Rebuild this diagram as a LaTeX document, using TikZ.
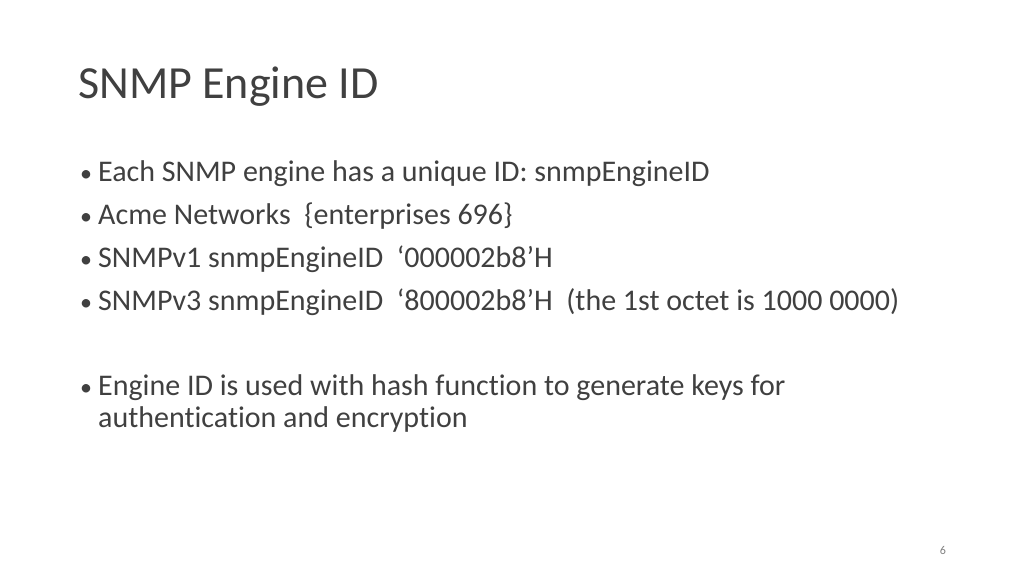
\documentclass[tikz,border=0pt]{standalone}
\usepackage{fontspec}
\setmainfont[Ligatures={NoCommon,NoRare}]{Carlito}
\definecolor{txt}{HTML}{404040}
\begin{document}
\begin{tikzpicture}[x=1pt,y=-1pt,
  line/.style={anchor=base west,inner sep=0pt,text=txt,font=\fontsize{30}{36}\selectfont},
  bul/.style={anchor=base west,inner sep=0pt,text=txt,font=\fontsize{24}{30}\selectfont}]
\useasboundingbox[fill=white] (0,0) rectangle (1024,576);
\node[anchor=base west,inner sep=0pt,text=txt,font=\fontsize{46}{50}\selectfont] (title) at (78,98) {SNMP Engine ID};
\foreach \y/\t [count=\i] in {181/{Each SNMP engine has a unique ID: snmpEngineID},
  224/{Acme Networks~ \{enterprises 696\}},
  267/{SNMPv1 snmpEngineID~ ‘000002b8’H},
  310/{SNMPv3 snmpEngineID~ ‘800002b8’H~ (the 1st octet is 1000 0000)},
  395/{Engine ID is used with hash function to generate keys for}}{
  \node[bul] (b\i) at (80,\y) {•};
  \node[line] (l\i) at (98,\y) {\t};
}
\node[line] (l6) at (98,427) {authentication and encryption};
\node[anchor=base,inner sep=0pt,text=gray,font=\fontsize{12}{14}\selectfont] (pg) at (943,554) {6};
\end{tikzpicture}
\end{document}
